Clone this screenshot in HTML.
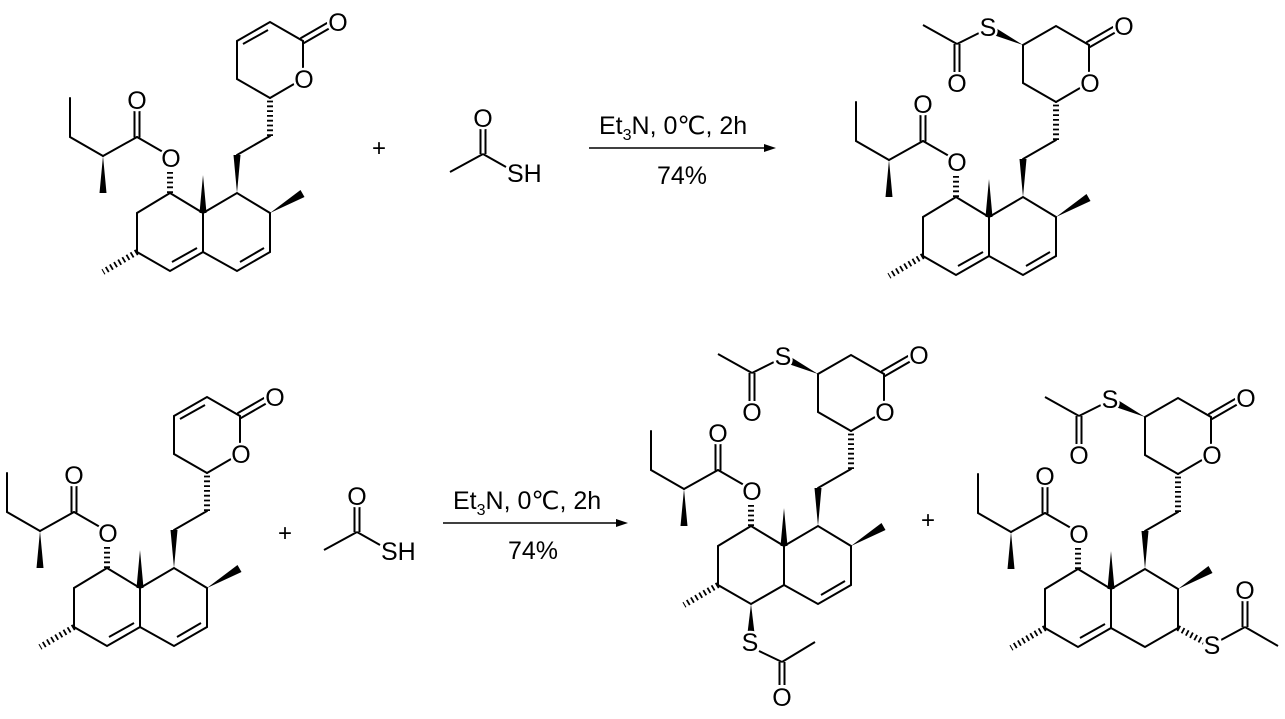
<!DOCTYPE html>
<html><head><meta charset="utf-8"><style>
html,body{margin:0;padding:0;background:#fff;}
svg{display:block;}
text{font-family:"Liberation Sans",Arial,sans-serif;fill:#000;}
.l{stroke:#fff;stroke-width:5px;paint-order:stroke;stroke-linejoin:round;}
</style></head><body>
<svg width="1285" height="719" viewBox="0 0 1285 719" xmlns="http://www.w3.org/2000/svg">
<defs>
<g id="core" stroke="#000" stroke-width="2" fill="none" stroke-linecap="round">
  <polyline points="170,193 137,213 137,252 170,271 203,252 203,213 170,193"/>
  <polyline points="203,213 237,193 270,213 270,252 237,271 203,252"/>
  <polygon points="203,175 199.5,213 206.5,213" fill="#000" stroke="none"/>
  <line x1="137" y1="252" x2="103" y2="272" stroke-width="6" stroke-dasharray="1.8 3" stroke-linecap="butt"/>
  <line x1="170" y1="193" x2="170" y2="168" stroke-width="6" stroke-dasharray="1.8 3" stroke-linecap="butt"/>
  <line x1="163" y1="152" x2="137" y2="137"/>
  <line x1="134.5" y1="137" x2="134.5" y2="111"/>
  <line x1="139.5" y1="137" x2="139.5" y2="111"/>
  <line x1="137" y1="137" x2="103" y2="156"/>
  <polygon points="103,156 99.5,193 106.5,193" fill="#000" stroke="none"/>
  <polyline points="103,156 70,137 70,98"/>
  <polygon points="237,193 233.5,155 240.5,155" fill="#000" stroke="none"/>
  <line x1="237" y1="155" x2="270" y2="136"/>
  <line x1="270" y1="136" x2="270" y2="98" stroke-width="6" stroke-dasharray="1.8 3" stroke-linecap="butt"/>
  <polygon points="270,213 300.5,190 304.5,197" fill="#000" stroke="none"/>
  <polyline points="270,98 294,84"/>
  <polyline points="303,71 303,41 270,22 237,41 237,79 270,98"/>
  <line x1="301" y1="38" x2="327" y2="23"/>
  <line x1="304" y1="43" x2="330" y2="28"/>
</g>
<g id="dbA" stroke="#000" stroke-width="2"><line x1="172" y1="262" x2="197" y2="248"/></g>
<g id="dbB" stroke="#000" stroke-width="2"><line x1="240" y1="262" x2="264" y2="248"/></g>
<g id="dbL" stroke="#000" stroke-width="2"><line x1="243" y1="44" x2="268" y2="30"/></g>
<g id="sac" stroke="#000" stroke-width="2" fill="none">
  <polygon points="237,41 209,23.5 206,30.5" fill="#000" stroke="none"/>
  <line x1="195" y1="28" x2="171" y2="40"/>
  <line x1="171" y1="40" x2="137" y2="21"/>
  <line x1="168.5" y1="40" x2="168.5" y2="68"/>
  <line x1="173.5" y1="40" x2="173.5" y2="68"/>
</g>
</defs>

<g transform="translate(0,0)">
  <use href="#core"/><use href="#dbA"/><use href="#dbB"/><use href="#dbL"/>
  <text class="l" x="137" y="109" font-size="25" text-anchor="middle">O</text>
  <text class="l" x="171" y="167" font-size="25" text-anchor="middle">O</text>
  <text class="l" x="304" y="88" font-size="25" text-anchor="middle">O</text>
  <text class="l" x="338" y="31" font-size="25" text-anchor="middle">O</text>
</g>

<g transform="translate(786,4)">
  <use href="#core"/><use href="#dbA"/><use href="#dbB"/><use href="#sac"/>
  <text class="l" x="137" y="109" font-size="25" text-anchor="middle">O</text>
  <text class="l" x="171" y="167" font-size="25" text-anchor="middle">O</text>
  <text class="l" x="304" y="88" font-size="25" text-anchor="middle">O</text>
  <text class="l" x="338" y="31" font-size="25" text-anchor="middle">O</text>
  <text class="l" x="202" y="32" font-size="25" text-anchor="middle">S</text>
  <text class="l" x="171" y="88" font-size="25" text-anchor="middle">O</text>
</g>

<g transform="translate(-63,375)">
  <use href="#core"/><use href="#dbA"/><use href="#dbB"/><use href="#dbL"/>
  <text class="l" x="137" y="109" font-size="25" text-anchor="middle">O</text>
  <text class="l" x="171" y="167" font-size="25" text-anchor="middle">O</text>
  <text class="l" x="304" y="88" font-size="25" text-anchor="middle">O</text>
  <text class="l" x="338" y="31" font-size="25" text-anchor="middle">O</text>
</g>

<g transform="translate(581,333)">
  <use href="#core"/><use href="#dbB"/><use href="#sac"/>
  <g stroke="#000" stroke-width="2" fill="none">
    <polygon points="170,271 166.5,300 173.5,300" fill="#000" stroke="none"/>
    <line x1="178" y1="318" x2="201" y2="329"/>
    <line x1="201" y1="329" x2="234" y2="309"/>
    <line x1="198.5" y1="329" x2="198.5" y2="352"/>
    <line x1="203.5" y1="329" x2="203.5" y2="352"/>
  </g>
  <text class="l" x="137" y="109" font-size="25" text-anchor="middle">O</text>
  <text class="l" x="171" y="167" font-size="25" text-anchor="middle">O</text>
  <text class="l" x="304" y="88" font-size="25" text-anchor="middle">O</text>
  <text class="l" x="338" y="31" font-size="25" text-anchor="middle">O</text>
  <text class="l" x="202" y="32" font-size="25" text-anchor="middle">S</text>
  <text class="l" x="171" y="88" font-size="25" text-anchor="middle">O</text>
  <text class="l" x="169" y="318" font-size="25" text-anchor="middle">S</text>
  <text class="l" x="201" y="373" font-size="25" text-anchor="middle">O</text>
</g>

<g transform="translate(908,376)">
  <use href="#core"/><use href="#dbA"/><use href="#sac"/>
  <g stroke="#000" stroke-width="2" fill="none">
    <line x1="270" y1="252" x2="296" y2="266" stroke-width="6" stroke-dasharray="1.8 3" stroke-linecap="butt"/>
    <line x1="313" y1="264" x2="337" y2="251"/>
    <line x1="337" y1="251" x2="370" y2="270"/>
    <line x1="334.5" y1="251" x2="334.5" y2="225"/>
    <line x1="339.5" y1="251" x2="339.5" y2="225"/>
  </g>
  <text class="l" x="137" y="109" font-size="25" text-anchor="middle">O</text>
  <text class="l" x="171" y="167" font-size="25" text-anchor="middle">O</text>
  <text class="l" x="304" y="88" font-size="25" text-anchor="middle">O</text>
  <text class="l" x="338" y="31" font-size="25" text-anchor="middle">O</text>
  <text class="l" x="202" y="32" font-size="25" text-anchor="middle">S</text>
  <text class="l" x="171" y="88" font-size="25" text-anchor="middle">O</text>
  <text class="l" x="304" y="278" font-size="25" text-anchor="middle">S</text>
  <text class="l" x="337" y="223" font-size="25" text-anchor="middle">O</text>
</g>

<g stroke="#000" stroke-width="2">
  <line x1="450" y1="172" x2="483" y2="154"/>
  <line x1="483" y1="154" x2="506" y2="167"/>
  <line x1="480.5" y1="154" x2="480.5" y2="129"/>
  <line x1="485.5" y1="154" x2="485.5" y2="129"/>
</g>
<text class="l" x="483" y="127" font-size="25" text-anchor="middle">O</text>
<text class="l" x="507" y="182" font-size="25">SH</text>

<g stroke="#000" stroke-width="2">
  <line x1="324" y1="550" x2="357" y2="532"/>
  <line x1="357" y1="532" x2="380" y2="545"/>
  <line x1="354.5" y1="532" x2="354.5" y2="507"/>
  <line x1="359.5" y1="532" x2="359.5" y2="507"/>
</g>
<text class="l" x="357" y="505" font-size="25" text-anchor="middle">O</text>
<text class="l" x="381" y="560" font-size="25">SH</text>

<text x="379" y="156" font-size="24" text-anchor="middle">+</text>
<text x="285" y="541" font-size="24" text-anchor="middle">+</text>
<text x="928" y="528" font-size="24" text-anchor="middle">+</text>

<line x1="589" y1="148" x2="768" y2="148" stroke="#000" stroke-width="1.6"/>
<polygon points="776,148 764,144 764,152" fill="#000"/>
<text x="599" y="134" font-size="25">Et<tspan font-size="16" dy="6">3</tspan><tspan dy="-6">N, 0℃, 2h</tspan></text>
<text x="682" y="184" font-size="25" text-anchor="middle">74%</text>

<line x1="443" y1="523" x2="620" y2="523" stroke="#000" stroke-width="1.6"/>
<polygon points="628,523 616,519 616,527" fill="#000"/>
<text x="453" y="509" font-size="25">Et<tspan font-size="16" dy="6">3</tspan><tspan dy="-6">N, 0℃, 2h</tspan></text>
<text x="533" y="559" font-size="25" text-anchor="middle">74%</text>
</svg>
</body></html>
